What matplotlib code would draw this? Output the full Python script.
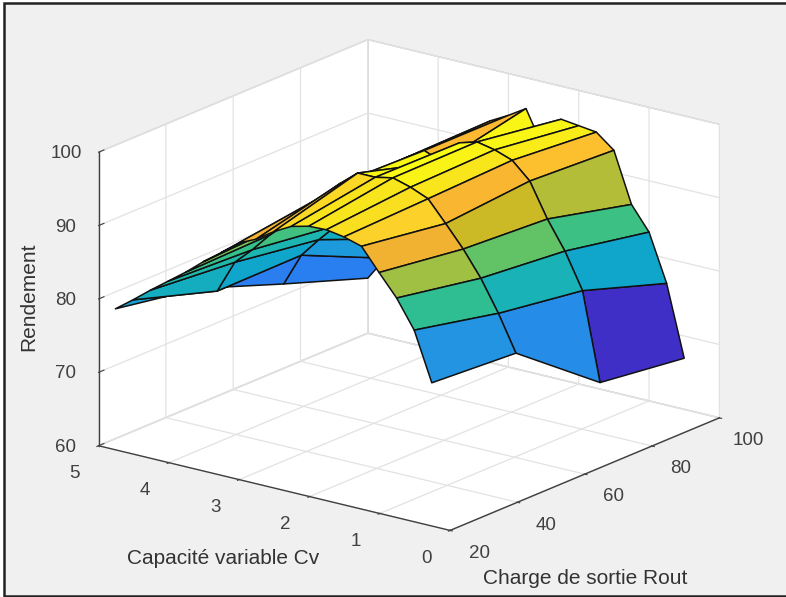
import numpy as np
import matplotlib
matplotlib.use("Agg")
import matplotlib.pyplot as plt
from matplotlib.colors import LinearSegmentedColormap, Normalize
from matplotlib.patches import Rectangle

plt.rcParams['font.family'] = ['Liberation Sans', 'DejaVu Sans']

# Data
charge = [25, 50, 75, 100]
capa = [0.5, 0.75, 1, 1.25, 1.5, 1.75, 2, 2.25, 2.5, 2.75, 3, 3.25, 3.5, 3.75, 4, 4.25, 4.5, 4.75, 5]
rend_r25 = [78.0, 84.6, 88.4, 91.3, 94.3, 95.0, 95.4, 95.3, 94.7, 93.4, 91.8, 90.7, 88.8, 87.0, 85.0, 83.2, 81.4, 79.5, 77.7]
rend_r50 = [77.25, 82.1, 86.3, 89.7, 92.6, 95.4, 96.4, 97.1, 96.6, 96.6, 94.6, 92.3, 89.9, 87.6, 85.3, 82.7, 80.4, 75.9, 75.7]
rend_r75 = [68.45, 80.4, 85.2, 89.0, 93.6, 95.85, 96.7, 97.2, 96.5, 93.3, 94.3, 92.8, 91.1, 89.6, 87.9, 81.2, 78.7, 76.0, 71.5]
rend_r100 = [66.97, 76.6, 83.0, 86.2, 93.0, 94.9, 95.2, 95.5, 90.9, 95.8, 94.3, 93.0, 91.0, 88.0, 84.0, 78.0, 74.0, 70.8, 67.5]

parula_like = [(0.0, '#3e26a8'), (0.05, '#4030c8'), (0.14, '#4653f0'), (0.3, '#2a80f0'),
               (0.37, '#2196e0'), (0.45, '#0ea8c9'), (0.52, '#1db5b0'), (0.59, '#2fbf8f'),
               (0.65, '#6cc45c'), (0.72, '#a9bf40'), (0.76, '#d4b820'), (0.81, '#f2b233'),
               (0.87, '#fcb830'), (0.905, '#fbd02a'), (0.935, '#f9e21e'), (0.97, '#f9f215'), (1.0, '#f9fb15')]

X, Y = np.meshgrid(charge, capa)
Z = np.column_stack([rend_r25, rend_r50, rend_r75, rend_r100])

# flat colour taken from the first vertex of each cell, like MATLAB surf
cmap = LinearSegmentedColormap.from_list('parula_like', parula_like)
norm = Normalize(vmin=np.min(Z), vmax=np.max(Z))
colors = cmap(norm(Z[:-1, :-1]))

fig = plt.figure(figsize=(7.86, 5.97), dpi=100, facecolor='white')
# grey window with its dark frame, right side runs off the image
fig.add_artist(Rectangle((4 / 786, 1 / 597), 800 / 786, 593 / 597, transform=fig.transFigure,
                         facecolor='#f0f0f0', edgecolor='#222222', linewidth=1.8, zorder=-5))

ax = fig.add_axes([102.4 / 786, 5.4 / 597, 597 / 786, 1.0], projection='3d', proj_type='ortho')
ax.patch.set_alpha(0)
ax.view_init(elev=18.5, azim=217.2)
ax.set_box_aspect((446, 442, 310), zoom=1.137)

ax.plot_surface(X, Y, Z, facecolors=colors, rstride=1, cstride=1, shade=False,
                edgecolor='#111111', linewidth=1.1, antialiased=True)

ax.set_xlim(20, 100, view_margin=0)
ax.set_ylim(0, 5, view_margin=0)
ax.set_zlim(60, 100, view_margin=0)
ax.set_xticks([20, 40, 60, 80, 100])
ax.set_yticks([0, 1, 2, 3, 4, 5])
ax.set_zticks([60, 70, 80, 90, 100])

for axis in (ax.xaxis, ax.yaxis, ax.zaxis):
    axis.set_pane_color((1, 1, 1, 1))
    axis.pane.set_edgecolor('#c8c8c8')
    axis.line.set_color('#404040')
    axis.line.set_linewidth(1.0)
    axis._axinfo['grid'].update(color='#e2e2e2', linewidth=0.9)
ax.xaxis._axinfo['tick'].update(inward_factor=0.08, outward_factor=0.02)
ax.yaxis._axinfo['tick'].update(inward_factor=0.08, outward_factor=0.02)
ax.zaxis._axinfo['tick'].update(inward_factor=0.0, outward_factor=0.25)
ax.tick_params(labelsize=13.5, colors='#404040', width=0.9)
ax.tick_params(axis='x', pad=10.5)
ax.tick_params(axis='y', pad=12)
ax.tick_params(axis='z', pad=3.8)
for lab in ax.get_xticklabels() + ax.get_yticklabels():
    lab.set_va('bottom')
for lab in ax.get_zticklabels():
    lab.set_va('center')

fig.text(223 / 786, 1 - 558 / 597, 'Capacité variable Cv', fontsize=15, color='#333333', ha='center', va='center')
fig.text(585 / 786, 1 - 578 / 597, 'Charge de sortie Rout', fontsize=15, color='#333333', ha='center', va='center')
fig.text(29 / 786, 1 - 297 / 597, 'Rendement', fontsize=15, color='#333333', rotation=90, ha='center', va='center')

fig.savefig('out.png', dpi=100)
